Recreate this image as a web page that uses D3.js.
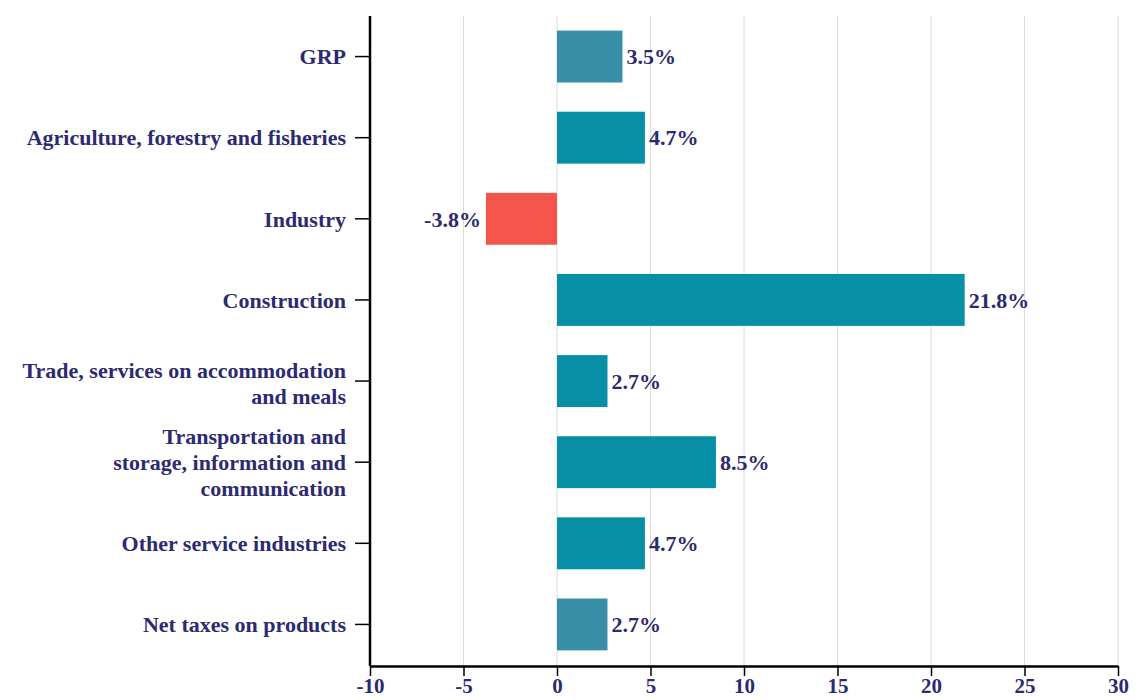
<!DOCTYPE html>
<html><head><meta charset="utf-8">
<script src="https://cdn.jsdelivr.net/npm/d3@7"></script>
<style>body{margin:0;background:#fff;} svg{display:block;}</style>
</head><body>
<svg id="chart" width="1142" height="700"></svg>
<script>
const categories = [
  ["GRP"],
  ["Agriculture, forestry and fisheries"],
  ["Industry"],
  ["Construction"],
  ["Trade, services on accommodation", "and meals"],
  ["Transportation and", "storage, information and", "communication"],
  ["Other service industries"],
  ["Net taxes on products"]
];
const values = [3.5, 4.7, -3.8, 21.8, 2.7, 8.5, 4.7, 2.7];
const barColors = ["#3a8fa8", "#078fa6", "#f4554a", "#078fa6", "#078fa6", "#078fa6", "#078fa6", "#3a8fa8"];
const xTicks = [-10, -5, 0, 5, 10, 15, 20, 25, 30];

(function(){
const svg = d3.select("#chart");
const mLeft = 370, mRight = 1118, mTop = 16, mBottom = 666;
const textColor = "#2c2a70";
const font = "'Liberation Serif', 'Times New Roman', serif";
const fs = 22;

const x = d3.scaleLinear().domain([-10, 30]).range([mLeft, mRight]);
const idx = categories.map((d, i) => i);
const y = d3.scaleBand().domain(idx).range([mTop, 665]).paddingInner(0.36).paddingOuter(0.18);

// grid
svg.append("g").selectAll("line").data(xTicks.filter(t => t > -10)).join("line")
  .attr("x1", d => x(d)).attr("x2", d => x(d))
  .attr("y1", mTop).attr("y2", mBottom)
  .attr("stroke", "#dcdcdc").attr("stroke-width", 1);

// bars
svg.append("g").selectAll("rect").data(values).join("rect")
  .attr("x", d => x(Math.min(0, d)))
  .attr("width", d => Math.abs(x(d) - x(0)))
  .attr("y", (d, i) => y(i))
  .attr("height", y.bandwidth())
  .attr("fill", (d, i) => barColors[i]);

// value labels
svg.append("g").selectAll("text").data(values).join("text")
  .attr("x", d => d >= 0 ? x(d) + 4 : x(d) - 5)
  .attr("y", (d, i) => y(i) + y.bandwidth() / 2)
  .attr("dy", "0.35em")
  .attr("text-anchor", d => d >= 0 ? "start" : "end")
  .attr("font-family", font).attr("font-weight", "bold").attr("font-size", fs)
  .attr("fill", textColor)
  .text(d => d.toFixed(1) + "%");

// y axis
const yAxis = svg.append("g").attr("transform", `translate(${mLeft},0)`)
  .call(d3.axisLeft(y).tickSize(15).tickSizeOuter(0).tickFormat(""));
yAxis.select(".domain").attr("stroke", "#000").attr("stroke-width", 2.5).attr("d", `M0,${mTop}V${mBottom}`);
yAxis.selectAll(".tick line").attr("stroke", "#000").attr("stroke-width", 1.5);
yAxis.selectAll(".tick").each(function(d) {
  const lines = categories[d];
  const lh = 26;
  const t = d3.select(this).append("text")
    .attr("x", -24).attr("text-anchor", "end")
    .attr("font-family", font).attr("font-weight", "bold").attr("font-size", fs)
    .attr("fill", textColor);
  const offset = lines.length === 2 ? -11 : -(lines.length - 1) * lh / 2;
  lines.forEach((ln, k) => {
    t.append("tspan").attr("x", -24).attr("y", offset + k * lh).attr("dy", "0.35em").text(ln);
  });
});

// x axis
const xAxis = svg.append("g").attr("transform", `translate(0,${mBottom})`)
  .call(d3.axisBottom(x).tickValues(xTicks).tickSize(10).tickSizeOuter(0).tickFormat(d => String(d)));
xAxis.select(".domain").attr("stroke", "#000").attr("stroke-width", 2.5);
xAxis.selectAll(".tick line").attr("stroke", "#000").attr("stroke-width", 1.5);
xAxis.selectAll(".tick text")
  .attr("y", 12).attr("dy", "0.71em")
  .attr("font-family", font).attr("font-weight", "bold").attr("font-size", 21)
  .attr("fill", textColor);
})();
</script>
</body></html>
